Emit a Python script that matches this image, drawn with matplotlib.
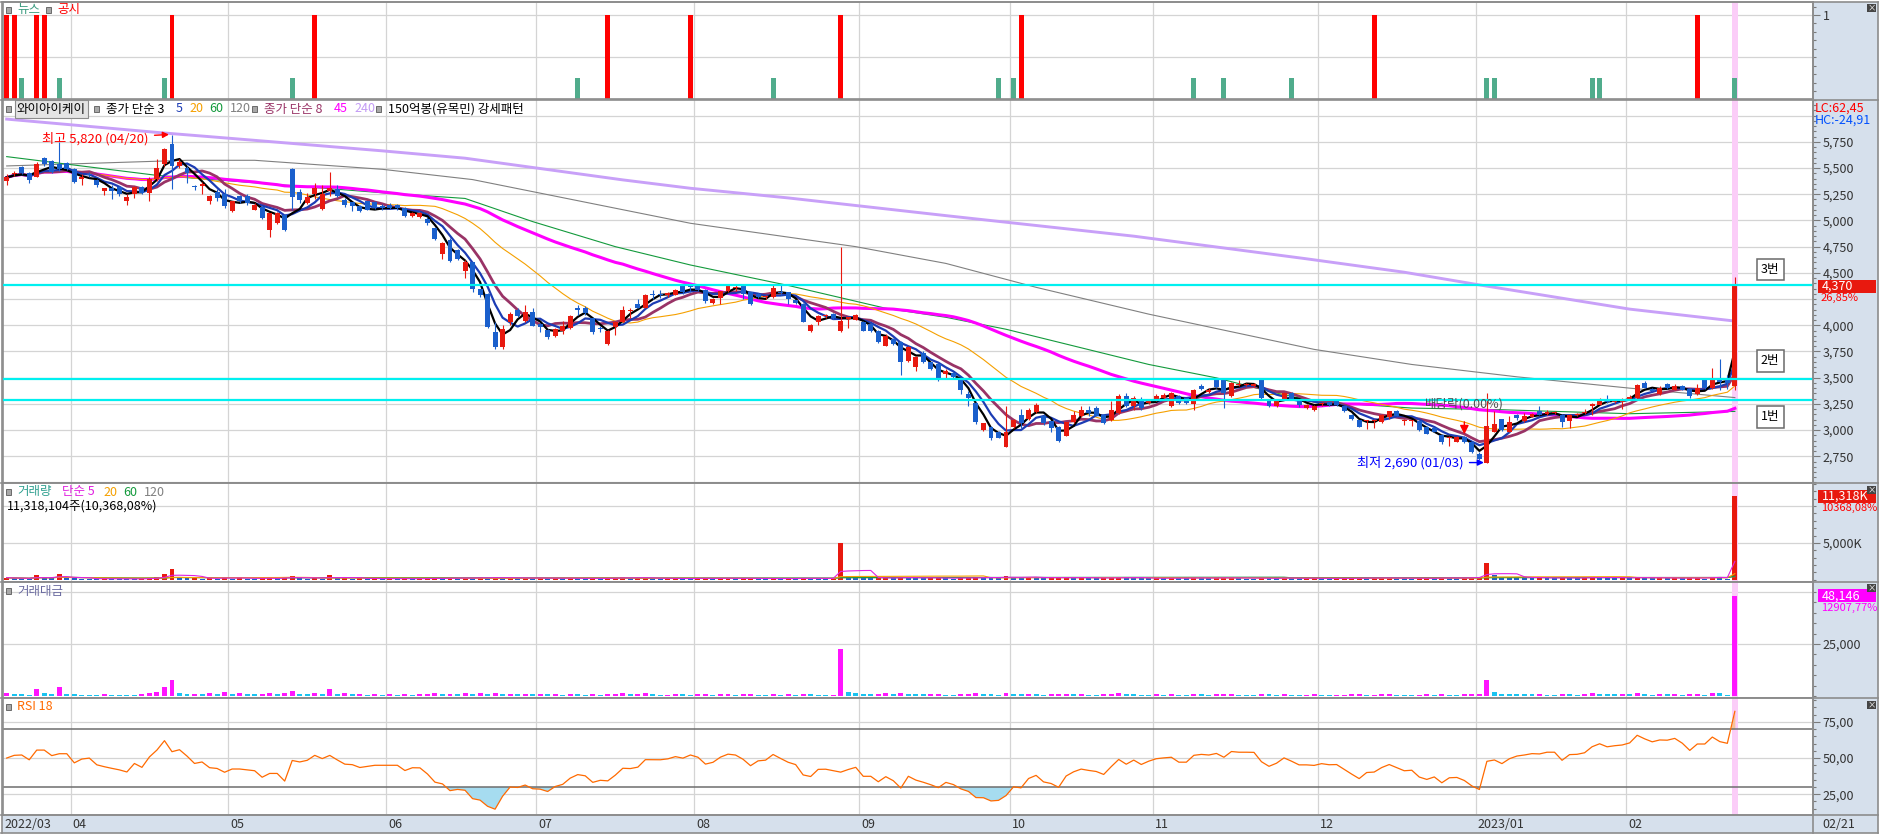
import numpy as np
import pandas as pd
import matplotlib
matplotlib.use('Agg')
import matplotlib.pyplot as plt
from matplotlib.patches import Rectangle
from matplotlib.lines import Line2D
from matplotlib.ticker import FixedLocator, MultipleLocator, NullFormatter, FuncFormatter
import matplotlib.transforms as mtrans

plt.rcParams['font.family'] = ['Noto Sans CJK KR', 'DejaVu Sans']
plt.rcParams['axes.unicode_minus'] = False

# ------------------------------------------------------------------ DATA
start_date = '2022-03-21'
end_date = '2023-02-21'
krx_holidays = ['2022-05-05', '2022-06-01', '2022-06-06', '2022-08-15', '2022-09-09',
                '2022-09-12', '2022-10-03', '2022-10-10', '2022-12-30', '2023-01-23', '2023-01-24']

opens = [5380,5445,5510,5450,5417,5600,5570,5540,5550,5494,
 5392,5440,5390,5280,5310,5320,5184,5257,5320,5264,
 5392,5535,5728,5520,5504,5325,5325,5184,5273,5254,
 5094,5232,5232,5104,5130,4912,4976,5056,5494,5270,
 5168,5248,5110,5280,5302,5193,5174,5142,5184,5174,
 5142,5152,5152,5120,5040,5035,5014,4928,4680,4816,
 4714,4521,4606,4343,4301,3933,3788,4029,4148,4045,
 4131,4013,3955,3894,3950,3971,4160,4167,4067,3968,
 3820,3981,4035,4135,4205,4164,4295,4300,4290,4292,
 4381,4370,4380,4340,4212,4260,4324,4355,4375,4317,
 4300,4270,4270,4310,4317,4240,4205,3950,4035,4090,
 4110,3950,4060,4053,4035,4013,3950,3805,3870,3845,
 3660,3605,3740,3645,3630,3535,3545,3480,3340,3260,
 3000,3028,2986,2836,3025,3146,3105,3170,3130,3082,
 3034,2948,3073,3130,3194,3210,3146,3092,3162,3322,
 3226,3274,3262,3290,3306,3226,3322,3306,3250,3420,
 3360,3482,3475,3322,3430,3430,3425,3482,3280,3232,
 3300,3350,3274,3210,3188,3245,3265,3274,3226,3146,
 3098,3085,3090,3073,3120,3178,3085,3085,3082,3034,
 3018,2954,2925,2890,2938,2890,2772,2690,2986,3105,
 2986,3146,3082,3125,3178,3150,3160,3146,3082,3140,
 3160,3226,3242,3290,3268,3270,3300,3306,3450,3390,
 3340,3440,3386,3420,3393,3340,3482,3402,3500,3490,
 3420]
highs = [5440,5470,5520,5460,5560,5610,5580,5745,5560,5500,
 5440,5460,5400,5310,5335,5330,5250,5330,5330,5410,
 5585,5690,5820,5590,5520,5340,5370,5240,5300,5300,
 5190,5240,5250,5170,5140,5075,5080,5060,5500,5300,
 5260,5360,5340,5460,5335,5210,5180,5150,5190,5190,
 5160,5170,5160,5130,5080,5080,5030,4930,4790,4830,
 4730,4620,4606,4350,4305,4030,4003,4130,4160,4190,
 4160,4020,3960,3975,4045,4100,4190,4180,4070,3997,
 3955,4045,4180,4160,4250,4300,4340,4340,4320,4350,
 4390,4390,4390,4345,4260,4330,4380,4385,4385,4320,
 4310,4290,4380,4380,4320,4245,4210,4010,4100,4110,
 4115,4750,4080,4110,4040,4020,3955,3920,3880,3850,
 3800,3710,3750,3650,3640,3580,3555,3490,3370,3270,
 3070,3040,2990,3225,3110,3200,3210,3255,3150,3090,
 3040,3080,3180,3226,3226,3225,3150,3280,3340,3354,
 3322,3315,3300,3340,3350,3360,3330,3310,3390,3440,
 3400,3490,3480,3460,3480,3450,3450,3500,3290,3290,
 3360,3360,3280,3250,3240,3270,3270,3280,3230,3150,
 3100,3100,3110,3150,3180,3190,3110,3100,3090,3040,
 3030,2960,2940,2945,2945,2900,2790,3350,3180,3110,
 3130,3150,3160,3165,3230,3190,3185,3150,3150,3160,
 3200,3260,3310,3330,3290,3310,3330,3440,3470,3400,
 3420,3450,3440,3430,3400,3435,3490,3595,3680,3530,
 4460]
lows = [5340,5420,5440,5360,5410,5520,5450,5470,5480,5360,
 5335,5410,5320,5240,5200,5230,5150,5215,5250,5185,
 5380,5520,5300,5500,5360,5290,5250,5160,5190,5120,
 5080,5170,5150,5100,5010,4840,4970,4900,5100,5165,
 5160,5200,5100,5230,5220,5130,5090,5080,5100,5110,
 5100,5110,5100,5030,5030,5020,4960,4810,4630,4600,
 4620,4450,4320,4270,3970,3770,3770,4000,4080,4030,
 3990,3940,3870,3890,3915,3965,4100,4100,3915,3940,
 3815,3910,4030,4070,4160,4160,4250,4260,4270,4290,
 4300,4320,4330,4210,4200,4200,4320,4330,4250,4190,
 4260,4250,4260,4290,4200,4200,4030,3940,4000,4070,
 4060,3940,3975,4050,3945,3940,3830,3800,3810,3530,
 3650,3560,3640,3570,3470,3500,3500,3340,3230,3060,
 2990,2910,2920,2835,3020,3015,3100,3165,3050,2985,
 2890,2945,3065,3125,3137,3130,3060,3090,3155,3220,
 3194,3194,3250,3280,3300,3220,3250,3250,3195,3380,
 3350,3400,3210,3320,3420,3420,3410,3300,3220,3220,
 3290,3290,3220,3200,3180,3230,3230,3230,3170,3100,
 3030,3010,3020,3070,3110,3130,3050,3040,2995,2960,
 2980,2868,2850,2885,2880,2780,2715,2690,2980,2990,
 2980,3100,3075,3120,3140,3140,3150,3030,3020,3130,
 3150,3140,3240,3260,3260,3200,3290,3300,3400,3370,
 3330,3390,3380,3380,3306,3330,3390,3395,3380,3395,
 3380]
closes = [5410,5450,5455,5390,5535,5535,5462,5490,5490,5366,
 5417,5430,5334,5305,5280,5257,5225,5320,5264,5398,
 5504,5680,5520,5558,5455,5320,5345,5232,5216,5136,
 5184,5184,5168,5152,5024,5072,5072,4912,5222,5193,
 5222,5312,5254,5312,5232,5152,5142,5088,5104,5120,
 5120,5120,5120,5040,5072,5070,4976,4822,4784,4617,
 4630,4608,4343,4285,3981,3788,3965,4110,4093,4131,
 3997,3981,3891,3965,3997,4093,4150,4119,3933,3965,
 3949,4035,4148,4141,4164,4292,4290,4290,4305,4340,
 4317,4365,4333,4228,4253,4327,4372,4360,4302,4205,
 4270,4280,4360,4305,4250,4215,4035,4003,4093,4095,
 4070,4045,4075,4100,3950,3950,3845,3900,3820,3645,
 3790,3700,3645,3580,3500,3565,3508,3385,3305,3073,
 3066,2922,2929,2986,3098,3066,3195,3242,3066,3018,
 2897,3073,3146,3194,3162,3137,3066,3194,3329,3226,
 3306,3210,3274,3322,3338,3350,3258,3258,3378,3395,
 3385,3412,3354,3450,3440,3440,3438,3306,3232,3274,
 3350,3300,3242,3242,3234,3255,3240,3242,3178,3108,
 3034,3095,3100,3146,3178,3137,3095,3100,3002,2964,
 2986,2890,2935,2938,2890,2794,2721,3040,3060,3002,
 3073,3114,3130,3150,3146,3170,3170,3073,3146,3150,
 3170,3252,3296,3265,3280,3290,3318,3434,3402,3375,
 3402,3400,3425,3386,3322,3402,3402,3500,3460,3445,
 4370]

# volume in thousand shares
vol_k = [296,204,185,130,648,296,204,778,204,185,
 131,131,122,168,131,122,112,56,206,299,
 382,740,1400,291,200,226,169,249,172,405,
 175,252,175,155,233,255,177,320,500,193,
 173,250,173,673,192,252,175,195,137,176,
 137,157,137,177,138,158,198,270,190,255,
 200,290,250,325,250,340,230,295,195,245,
 225,275,205,230,177,248,193,170,225,152,
 250,295,362,218,240,305,186,140,163,209,
 186,162,208,234,166,210,253,161,184,211,
 143,119,210,163,188,142,266,225,173,122,
 147,5000,545,320,275,202,258,335,208,400,
 298,245,218,248,310,197,170,270,305,405,
 295,270,238,510,358,293,380,310,228,262,
 300,360,288,315,220,190,258,350,430,275,
 242,212,183,241,210,300,213,183,330,265,
 206,235,298,325,204,175,146,296,245,183,
 270,212,184,216,247,185,154,185,218,256,
 290,195,225,258,285,220,195,160,228,268,
 202,308,240,205,273,352,434,2300,700,363,
 355,320,290,255,318,220,190,320,258,222,
 275,400,335,275,243,275,240,412,292,207,
 265,235,264,206,240,324,176,440,425,109.163,
 11318.104]

# traded value in million won
money_m = [1600,1100,1000,700,3500,1600,1100,4200,1100,1000,
 700,700,650,900,700,650,600,300,1100,1600,
 2100,4200,7700,1600,1100,1200,900,1300,900,2100,
 900,1300,900,800,1200,1300,900,1600,2600,1000,
 900,1300,900,3500,1000,1300,900,1000,700,900,
 700,800,700,900,700,800,1000,1300,900,1200,
 900,1300,1100,1400,1000,1300,900,1200,800,1000,
 900,1100,800,900,700,1000,800,700,900,600,
 1000,1200,1500,900,1000,1300,800,600,700,900,
 800,700,900,1000,700,900,1100,700,800,900,
 600,500,900,700,800,600,1100,900,700,500,
 600,22600,2200,1300,1100,800,1000,1300,800,1500,
 1100,900,800,900,1100,700,600,900,1000,1300,
 900,800,700,1500,1100,900,1200,1000,700,800,
 900,1100,900,1000,700,600,800,1100,1400,900,
 800,700,600,800,700,1000,700,600,1100,900,
 700,800,1000,1100,700,600,500,1000,800,600,
 900,700,600,700,800,600,500,600,700,800,
 900,600,700,800,900,700,600,500,700,800,
 600,900,700,600,800,1000,1200,7800,2100,1100,
 1100,1000,900,800,1000,700,600,1000,800,700,
 900,1300,1100,900,800,900,800,1400,1000,700,
 900,800,900,700,800,1100,600,1500,1450,373,
 48146]

gongsi_idx = [0, 1, 4, 5, 22, 41, 80, 91, 111, 135, 182, 225]
news_idx = [2, 7, 21, 38, 76, 102, 132, 134, 158, 162, 171, 197, 198, 211, 212, 230]
gongsi_level = 1.0
news_level = 0.26

# long moving averages (their windows start before the shown data)
ma60_idx = [0, 20, 30, 50, 61, 70, 81, 91, 104, 117, 125, 133, 152, 161, 168, 174, 187, 199, 216, 230]
ma60_val = [5609, 5430, 5376, 5264, 5210, 4989, 4750, 4575, 4380, 4162, 4076, 3962, 3626, 3498, 3370, 3274, 3210, 3194, 3156, 3178]
ma120_idx = [0, 24, 33, 50, 62, 91, 113, 125, 137, 152, 174, 187, 201, 216, 230]
ma120_val = [5520, 5574, 5574, 5488, 5390, 4973, 4750, 4590, 4362, 4106, 3770, 3626, 3508, 3400, 3310]
ma240_idx = [0, 20, 30, 50, 61, 82, 91, 104, 125, 150, 173, 186, 196, 216, 230]
ma240_val = [5967, 5840, 5782, 5664, 5594, 5387, 5307, 5215, 5046, 4850, 4634, 4506, 4385, 4154, 4040]

cyan_levels = [3290, 3490, 4380]
cyan_labels = ['1번', '2번', '3번']
cyan_label_dy = [-17, 18, 16]

dividend_idx = 194
rsi_period = 18
rsi_seed = 30.0

price_label_ticks = [2750, 3000, 3250, 3500, 3750, 4000, 4500, 4750, 5000, 5250, 5500, 5750]
price_grid = [2500, 2750, 3000, 3250, 3500, 3750, 4000, 4250, 4500, 4750, 5000, 5250, 5500, 5750, 6000]
vol_label_ticks = [5000]
vol_grid = [5000, 10000]
money_label_ticks = [25000]
money_grid = [25000, 50000]
rsi_label_ticks = [25, 50, 75]
rsi_bounds = [30, 70]

# ------------------------------------------------------------------ PREP
dates = pd.bdate_range(start_date, end_date)
dates = dates[~dates.isin(pd.to_datetime(krx_holidays))]
n = len(closes)
xs = np.arange(n)
o = np.array(opens, float); h = np.array(highs, float)
l = np.array(lows, float); c = np.array(closes, float)
vol = np.array(vol_k, float); mon = np.array(money_m, float)

cser = pd.Series(c)
ma = {p: cser.rolling(p, min_periods=1).mean().values for p in (3, 5, 8, 20, 45)}
vser = pd.Series(vol)
vma = {p: vser.rolling(p, min_periods=1).mean().values for p in (5, 20, 60, 120)}

rsi = [50.0]
ag = al = rsi_seed
for dlt in np.diff(c):
    ag = (ag * (rsi_period - 1) + max(dlt, 0)) / rsi_period
    al = (al * (rsi_period - 1) + max(-dlt, 0)) / rsi_period
    rsi.append(100 * ag / (ag + al))
rsi = np.array(rsi)

month_first = [0] + [i for i in range(1, len(dates)) if dates[i].month != dates[i - 1].month]
month_lab = []
for k, i in enumerate(month_first):
    d = dates[i]
    month_lab.append(f"{d:%Y/%m}" if (k == 0 or d.month == 1) else f"{d:%m}")

hi_i = int(np.argmax(h)); lo_i = int(np.argmin(l))

# ------------------------------------------------------------------ FIGURE
W, H = 1880, 835
fig = plt.figure(figsize=(W / 100, H / 100), dpi=100)
fig.patch.set_facecolor('white')
X0, X1 = 3, 1813
XL = (-0.49, 240.4)
RED = '#e8190f'; BLUE = '#1a5fcc'; STRIP = '#d6e0ec'; GRID = '#d4d4d4'; SEP = '#8c8c8c'
FS = 9

fig.add_artist(Rectangle((X1 / W, 1 - 833 / H), (1878 - X1) / W, (833 - 2) / H,
                         transform=fig.transFigure, facecolor=STRIP, edgecolor='none', zorder=-5))
fig.add_artist(Rectangle((2 / W, 1 - 833 / H), (X1 - 2) / W, (833 - 815) / H,
                         transform=fig.transFigure, facecolor=STRIP, edgecolor='none', zorder=-5))


def add_ax(y0, y1):
    ax = fig.add_axes([X0 / W, 1 - y1 / H, (X1 - X0) / W, (y1 - y0) / H])
    ax.set_xlim(XL)
    ax.set_xticks([])
    for s in ax.spines.values():
        s.set_color(SEP); s.set_linewidth(1.2)
    ax.yaxis.tick_right()
    ax.tick_params(axis='y', which='both', direction='out', color='#7a7a7a',
                   labelsize=FS, labelcolor='#333333', pad=2, width=0.8)
    ax.tick_params(axis='y', which='major', length=5)
    ax.tick_params(axis='y', which='minor', length=2.5)
    for xm in month_first[1:]:
        ax.axvline(xm - 0.5, color=GRID, lw=0.9, zorder=0)
    ax.axvspan(n - 1 - 0.36, n - 1 + 0.36, color='#fbcdf8', lw=0, zorder=0.5)
    return ax


def comma_fmt(v, pos=None):
    return f"{v:,.0f}"


# ---- news / disclosure panel
axn = add_ax(2, 99.5)
axn.set_ylim(0, 1.154)
for g in (0.5, 1.0):
    axn.axhline(g, color=GRID, lw=0.9, zorder=0)
axn.bar(news_idx, [news_level] * len(news_idx), 0.66, color='#50ac8c', lw=0, zorder=3)
axn.bar(gongsi_idx, [gongsi_level] * len(gongsi_idx), 0.66, color='#ff0000', lw=0, zorder=3)
axn.yaxis.set_major_locator(FixedLocator([1]))
axn.yaxis.set_major_formatter(FuncFormatter(lambda v, p: '1'))
axn.yaxis.set_minor_locator(MultipleLocator(0.1))
axn.yaxis.set_minor_formatter(NullFormatter())

# ---- price panel
axp = add_ax(99.5, 483)
axp.set_ylim(2495, 6154)
for g in price_grid:
    axp.axhline(g, color=GRID, lw=0.9, zorder=0)
axp.plot(ma240_idx, ma240_val, color='#c8a0f8', lw=2.1, zorder=2)
axp.plot(ma120_idx, ma120_val, color='#808080', lw=0.8, zorder=2)
axp.plot(ma60_idx, ma60_val, color='#139a3c', lw=0.8, zorder=2)
axp.plot(xs, ma[45], color='#ff00ff', lw=2.2, zorder=2)
axp.plot(xs, ma[20], color='#f5a000', lw=0.8, zorder=2)
axp.plot(xs, ma[8], color='#993366', lw=2.0, zorder=2)
axp.plot(xs, ma[5], color='#1c3cb4', lw=1.6, zorder=2)
axp.plot(xs, ma[3], color='black', lw=1.6, zorder=2)
up = c >= o
ccol = np.where(up, RED, BLUE)
axp.vlines(xs, l, h, colors=ccol, lw=0.8, zorder=3)
axp.bar(xs, np.maximum(np.abs(c - o), 10), 0.66, bottom=np.minimum(o, c), color=ccol, lw=0, zorder=3.1)
for lvl, lab, dy in zip(cyan_levels, cyan_labels, cyan_label_dy):
    axp.axhline(lvl, color='#00f0f0', lw=1.6, zorder=4)
    axp.annotate(lab, xy=(234.7, lvl), xytext=(0, dy), textcoords='offset pixels',
                 ha='center', va='center', fontsize=FS, color='black', zorder=6,
                 bbox=dict(boxstyle='square,pad=0.35', fc='white', ec='#6a6a6a', lw=1.1))
axp.yaxis.set_major_locator(FixedLocator(price_label_ticks))
axp.yaxis.set_major_formatter(FuncFormatter(comma_fmt))
axp.yaxis.set_minor_locator(MultipleLocator(50))
axp.yaxis.set_minor_formatter(NullFormatter())
axp.annotate(f"최고 {h[hi_i]:,.0f} ({dates[hi_i]:%m/%d})", xy=(hi_i - 0.4, h[hi_i]), xytext=(-20, -4),
             textcoords='offset pixels', ha='right', va='center', color='#ff0000', fontsize=9.5, zorder=6,
             arrowprops=dict(arrowstyle='-|>', color='#ff0000', lw=1.0, shrinkA=2, shrinkB=0, mutation_scale=9))
axp.annotate(f"최저 {l[lo_i]:,.0f} ({dates[lo_i]:%m/%d})", xy=(lo_i - 0.4, l[lo_i]), xytext=(-20, 0),
             textcoords='offset pixels', ha='right', va='center', color='#0000ff', fontsize=9.5, zorder=6,
             arrowprops=dict(arrowstyle='-|>', color='#0000ff', lw=1.0, shrinkA=2, shrinkB=0, mutation_scale=9))
axp.annotate('배당락(0.00%)', xy=(dividend_idx, h[dividend_idx] + 15), xytext=(0, 30),
             textcoords='offset pixels', ha='center', va='center', color='#505050', fontsize=FS, zorder=6,
             arrowprops=dict(arrowstyle='-|>', color='#ff0000', lw=1.0, shrinkA=6, shrinkB=0, mutation_scale=13))

# ---- volume panel (bar colour: volume up / down versus the previous day)
axv = add_ax(483, 581.5)
axv.set_ylim(-230, 13120)
for g in vol_grid:
    axv.axhline(g, color=GRID, lw=0.9, zorder=0)
vcol = [RED if (i == 0 or vol[i] > vol[i - 1]) else BLUE for i in range(n)]
axv.bar(xs, vol, 0.66, color=vcol, lw=0, zorder=3)
axv.plot(xs, vma[120], color='#808080', lw=0.8, zorder=4)
axv.plot(xs, vma[60], color='#139a3c', lw=0.8, zorder=4)
axv.plot(xs, vma[20], color='#f5a000', lw=0.8, zorder=4)
axv.plot(xs, vma[5], color='#e020e0', lw=0.8, zorder=4)
axv.yaxis.set_major_locator(FixedLocator(vol_label_ticks))
axv.yaxis.set_major_formatter(FuncFormatter(lambda v, p: f"{v:,.0f}K"))
axv.yaxis.set_minor_locator(MultipleLocator(1000))
axv.yaxis.set_minor_formatter(NullFormatter())

# ---- traded value panel
axm = add_ax(581.5, 697.5)
axm.set_ylim(-670, 54950)
for g in money_grid:
    axm.axhline(g, color=GRID, lw=0.9, zorder=0)
mcol = ['#ff14ff' if (i == 0 or mon[i] > mon[i - 1]) else '#19c3f0' for i in range(n)]
axm.bar(xs, mon, 0.66, color=mcol, lw=0, zorder=3)
axm.yaxis.set_major_locator(FixedLocator(money_label_ticks))
axm.yaxis.set_major_formatter(FuncFormatter(comma_fmt))
axm.yaxis.set_minor_locator(MultipleLocator(5000))
axm.yaxis.set_minor_formatter(NullFormatter())

# ---- RSI panel
axr = add_ax(697.5, 815)
axr.set_ylim(10.6, 91.9)
for g in rsi_label_ticks:
    axr.axhline(g, color=GRID, lw=0.9, zorder=0)
for b in rsi_bounds:
    axr.axhline(b, color='#6e6e6e', lw=1.1, zorder=2)
axr.fill_between(xs, rsi, rsi_bounds[0], where=rsi < rsi_bounds[0], interpolate=True,
                 color='#a6dcf0', lw=0, zorder=1.5)
axr.fill_between(xs, rsi, rsi_bounds[1], where=rsi > rsi_bounds[1], interpolate=True,
                 color='#f6c49a', lw=0, zorder=1.5)
axr.plot(xs, rsi, color='#ff6a00', lw=0.9, zorder=3)
axr.yaxis.set_major_locator(FixedLocator(rsi_label_ticks))
axr.yaxis.set_major_formatter(FuncFormatter(lambda v, p: f"{v:.2f}".replace('.', ',')))
axr.yaxis.set_minor_locator(MultipleLocator(5))
axr.yaxis.set_minor_formatter(NullFormatter())

# ---- date strip labels
tr = mtrans.blended_transform_factory(axr.transData, fig.transFigure)
for i, lab in zip(month_first, month_lab):
    axr.text(i - 0.5 + 0.27, 1 - 824 / H, lab, transform=tr, ha='left', va='center',
             fontsize=FS, color='#333333', clip_on=False)


# ------------------------------------------------------------------ TEXT / DECOR
def ftext(xp, yp, s, **kw):
    kw.setdefault('fontsize', FS); kw.setdefault('va', 'center'); kw.setdefault('ha', 'left')
    return fig.text(xp / W, 1 - yp / H, s, **kw)


def icon(xp, yp):
    fig.add_artist(Rectangle((xp / W, 1 - (yp + 3) / H), 5 / W, 6 / H, transform=fig.transFigure,
                             facecolor='#a8a8a8', edgecolor='#5a5a5a', lw=0.6, zorder=7))


def closebox(yp):
    fig.add_artist(Rectangle((1867 / W, 1 - (yp + 4) / H), 9 / W, 8 / H, transform=fig.transFigure,
                             facecolor='#454545', edgecolor='none', zorder=7))
    ftext(1871.5, yp, '×', color='white', fontsize=6, ha='center', zorder=8)


def value_box(ax, value, label, fc, sub, subcol):
    yp = H - ax.transData.transform((0, value))[1]
    fig.add_artist(Rectangle((1818 / W, 1 - (yp + 6.5) / H), 58 / W, 13 / H, transform=fig.transFigure,
                             facecolor=fc, edgecolor='none', zorder=7))
    ftext(1822, yp, label, color='white', zorder=8)
    ftext(1821, yp + 12, sub, color=subcol, fontsize=8, zorder=8)


# news panel header
icon(6, 10); ftext(17, 10, '뉴스', color='#3c9c80')
icon(46, 10); ftext(57, 10, '공시', color='#ff0000')

# price legend row
icon(6, 109)
ftext(51.5, 109, '와이아이케이', ha='center', color='black',
      bbox=dict(boxstyle='square,pad=0.18', fc='#e4e4e4', ec='#8c8c8c', lw=0.8))
icon(94, 109)
ftext(106, 109, '종가 단순 3', color='black')
ftext(176, 109, '5', color='#1c3cb4')
ftext(189, 109, '20', color='#f5a000')
ftext(209, 109, '60', color='#139a3c')
ftext(230, 109, '120', color='#808080')
icon(252, 109)
ftext(264, 109, '종가 단순 8', color='#993366')
ftext(334, 109, '45', color='#ff00ff')
ftext(354, 109, '240', color='#c39bf5')
icon(376, 109)
ftext(388, 109, '150억봉(유목민) 강세패턴', color='black')

# volume header
icon(6, 492)
ftext(17, 492, '거래량', color='#30a090')
ftext(62, 492, '단순 5', color='#e020e0')
ftext(103, 492, '20', color='#f5a000')
ftext(123, 492, '60', color='#139a3c')
ftext(144, 492, '120', color='#808080')
ftext(7, 506, '11,318,104주(10,368,08%)', color='black')

# traded value header
icon(6, 591); ftext(17, 591, '거래대금', color='#6a6aa0')
# RSI header
icon(6, 707); ftext(17, 707, f'RSI {rsi_period}', color='#ff6a00')

# right-strip texts
ftext(1815, 108, 'LC:62,45', color='#ff0000')
ftext(1815, 120, 'HC:-24,91', color='#0050ff')
value_box(axp, c[-1], f"{c[-1]:,.0f}", RED, f"{(c[-1] / c[-2] - 1) * 100:.2f}%".replace('.', ','), '#ff0000')
value_box(axv, vol[-1], f"{vol[-1]:,.0f}K", RED, '10368,08%', '#ff0000')
value_box(axm, mon[-1], f"{mon[-1]:,.0f}", '#ff00ff', '12907,77%', '#ff00ff')
ftext(1822, 824, f"{dates[-1]:%m/%d}", color='#333333')
for yp in (8, 490, 588, 705):
    closebox(yp)

# separators and outer border
for yp in (2, 99.5, 483, 581.5, 697.5, 815, 833):
    fig.add_artist(Line2D([1 / W, 1878 / W], [1 - yp / H, 1 - yp / H], transform=fig.transFigure,
                          color=SEP, lw=1.2, zorder=6))
for xp in (2, X1, 1878):
    fig.add_artist(Line2D([xp / W, xp / W], [1 - 833 / H, 1 - 2 / H], transform=fig.transFigure,
                          color=SEP, lw=1.2, zorder=6))

fig.savefig('out.png', dpi=100, facecolor='white')
